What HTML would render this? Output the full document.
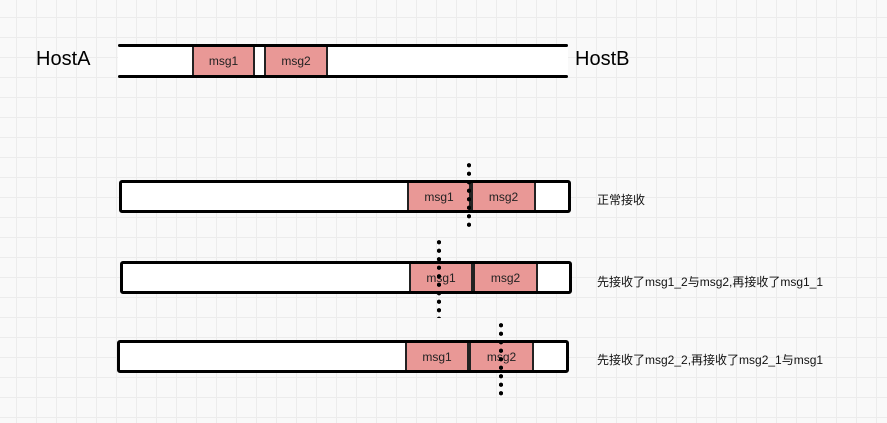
<!DOCTYPE html><html><head><meta charset="utf-8"><style>
body{margin:0;width:887px;height:423px;overflow:hidden;background-color:#f9f9f9;
background-image:linear-gradient(#ececec 1px,transparent 1px),linear-gradient(90deg,#ececec 1px,transparent 1px);
background-size:20px 20px;background-position:16px 17px;font-family:"Liberation Sans","Noto Sans CJK SC",sans-serif;position:relative}
.a{position:absolute}
.line{position:absolute;height:3px;background:#000;border-radius:2px}
.bar{position:absolute;height:27px;border:3px solid #000;border-radius:3px;background:#fff}
.m{position:absolute;background:#e99896;border-left:2px solid #222;border-right:2px solid #222;box-sizing:border-box;font-size:12px;color:#222;display:flex;align-items:center;justify-content:center}
.dots{position:absolute;width:4px;background-image:radial-gradient(circle,#000 2px,transparent 2.2px);background-size:4px 8.5px}
.lbl{position:absolute;font-size:12px;color:#111}
</style></head><body>
<div class="a" style="left:36px;top:48px;font-size:20px">HostA</div>
<div class="a" style="left:575px;top:48px;font-size:20px">HostB</div>
<div class="a" style="left:118px;top:45px;width:450px;height:32px;background:#fff"></div>
<div class="line" style="left:118px;top:44px;width:450px"></div>
<div class="line" style="left:118px;top:75px;width:450px"></div>
<div class="m" style="left:192px;top:47px;width:63px;height:28px">msg1</div>
<div class="m" style="left:264px;top:47px;width:64px;height:28px">msg2</div>

<div class="bar" style="left:119px;top:180px;width:446px"></div>
<div class="m" style="left:407px;top:183px;width:64px;height:27px">msg1</div>
<div class="m" style="left:471px;top:183px;width:65px;height:27px">msg2</div>
<div class="dots" style="left:467px;top:161px;height:70px"></div>
<div class="lbl" style="left:597px;top:191px">正常接收</div>

<div class="bar" style="left:120px;top:261px;width:446px"></div>
<div class="m" style="left:409px;top:264px;width:64px;height:27px">msg1</div>
<div class="m" style="left:473px;top:264px;width:65px;height:27px">msg2</div>
<div class="dots" style="left:437px;top:238px;height:80px"></div>
<div class="lbl" style="left:597px;top:273px">先接收了msg1_2与msg2,再接收了msg1_1</div>

<div class="bar" style="left:117px;top:340px;width:446px"></div>
<div class="m" style="left:405px;top:343px;width:64px;height:27px">msg1</div>
<div class="m" style="left:469px;top:343px;width:65px;height:27px">msg2</div>
<div class="dots" style="left:499px;top:321px;height:78px"></div>
<div class="lbl" style="left:597px;top:351px">先接收了msg2_2,再接收了msg2_1与msg1</div>
</body></html>
